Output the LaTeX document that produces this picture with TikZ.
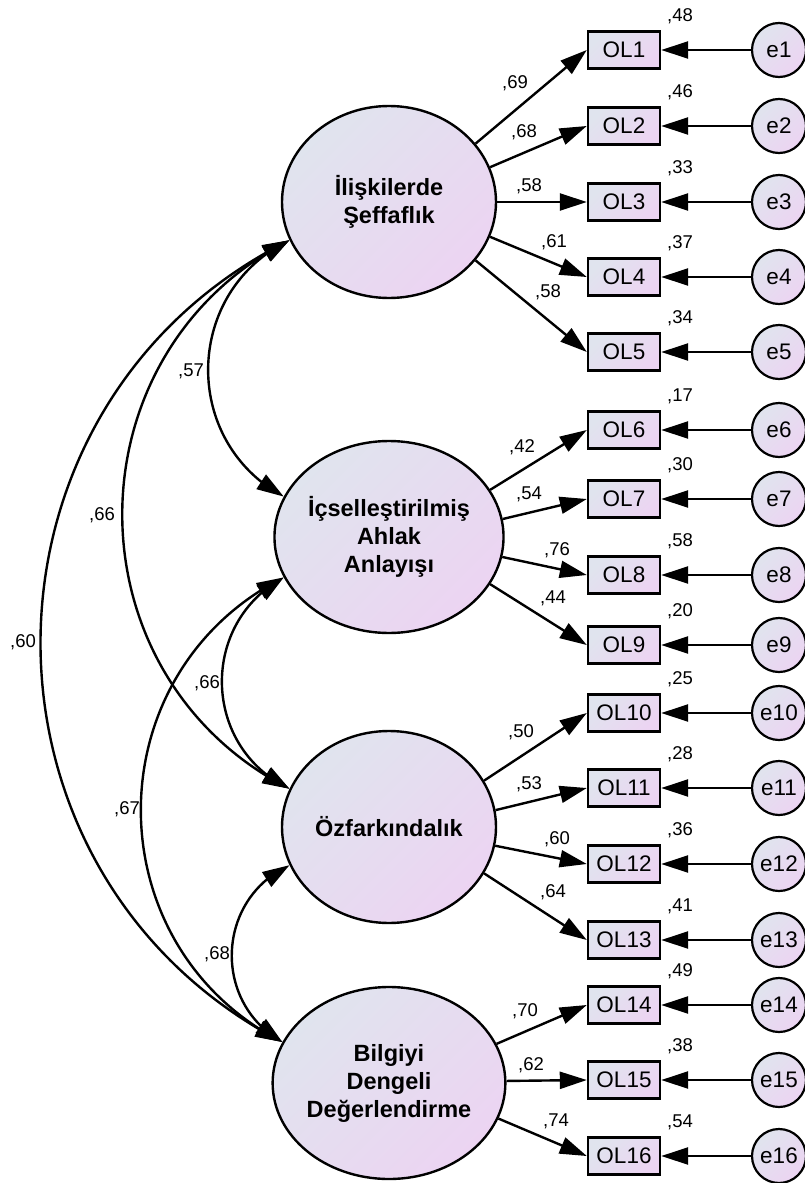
\documentclass[tikz,border=0pt]{standalone}
\usepackage{fontspec}
\setmainfont{Liberation Sans}
\usetikzlibrary{arrows.meta,shapes.geometric,bending}
\definecolor{fillA}{RGB}{224,228,238}
\definecolor{fillB}{RGB}{236,212,242}
\tikzset{
  grad/.style={top color=fillA, bottom color=fillB, shading angle=45},
  latent/.style={ellipse, draw, line width=2.4pt, grad, minimum width=214pt,
    minimum height=192pt, inner sep=0pt, align=center,
    font=\fontsize{23.5}{28}\selectfont\bfseries},
  obs/.style={rectangle, draw, line width=2.4pt, grad, minimum width=72pt,
    minimum height=37pt, inner sep=0pt, font=\fontsize{22.5}{26}\selectfont},
  err/.style={circle, draw, line width=2.2pt, grad, minimum size=54pt,
    inner sep=0pt, font=\fontsize{22.5}{26}\selectfont},
  coef/.style={inner sep=0pt, font=\fontsize{18.5}{20}\selectfont},
  tipshape/.tip={Triangle[length=27pt,width=17pt]},
  load/.style={line width=2.4pt, -tipshape},
  cov/.style={line width=2.4pt, tipshape-tipshape, bend right=63, looseness=1.17},
}
\begin{document}
\begin{tikzpicture}[x=1pt, y=-1pt]
\fill[white] (0,0) rectangle (805,1183);
\useasboundingbox (0,0) rectangle (805,1183);

% latent factors
\node[latent] (F1) at (389,202) {İlişkilerde\\Şeffaflık};
\node[latent] (F2) at (389,537) {İçselleştirilmiş\\Ahlak\\Anlayışı};
\node[latent] (F3) at (389,827) {Özfarkındalık};
\node[latent] (F4) at (389,1083) {Bilgiyi\\Dengeli\\Değerlendirme};

% indicators, error terms and squared multiple correlations
\foreach \i/\y/\r in {1/50/48, 2/126/46, 3/202/33, 4/277/37, 5/352/34,
    6/430/17, 7/499/30, 8/575/58, 9/645/20, 10/713/25, 11/788/28,
    12/864/36, 13/940/41, 14/1005/49, 15/1080/38, 16/1156/54} {
  \node[obs] (OL\i) at (624,\y) {OL\i};
  \node[err] (e\i) at (779,\y) {e\i};
  \node[coef] (r\i) at (680,\y-34) {,\r};
  \draw[load] (e\i) -- (OL\i);
}

% factor loadings
\foreach \f/\a/\i in {F1/34/1, F1/19/2, F1/0/3, F1/341/4, F1/326/5,
    F2/25/6, F2/9.5/7, F2/350.5/8, F2/335/9,
    F3/26/10, F3/9.5/11, F3/350.5/12, F3/334/13,
    F4/20/14, F4/1/15, F4/342/16} {
  \draw[load] (\f.\a) -- (OL\i.west);
}
\foreach \i/\x/\y/\v in {1/515/83/69, 2/524/132/68, 3/529/186/58, 4/554/242/61,
    5/548/292/58, 6/522/447/42, 7/529/494/54, 8/557/550/76, 9/553/598/44,
    10/521/732/50, 11/529/784/53, 12/557/839/60, 13/553/892/64,
    14/525/1011/70, 15/531/1065/62, 16/556/1121/74} {
  \node[coef] (l\i) at (\x,\y) {,\v};
}

% factor covariances
\draw[cov] (F1.201) to (F2.159);
\draw[cov] (F1.201) to (F3.159);
\draw[cov] (F1.201) to (F4.159);
\draw[cov] (F2.201) to (F3.159);
\draw[cov] (F2.201) to (F4.159);
\draw[cov] (F3.201) to (F4.159);
\node[coef] (c12) at (191,371) {,57};
\node[coef] (c13) at (102,515) {,66};
\node[coef] (c14) at (23,642) {,60};
\node[coef] (c23) at (207,683) {,66};
\node[coef] (c24) at (127,809) {,67};
\node[coef] (c34) at (217,954) {,68};
\end{tikzpicture}
\end{document}
